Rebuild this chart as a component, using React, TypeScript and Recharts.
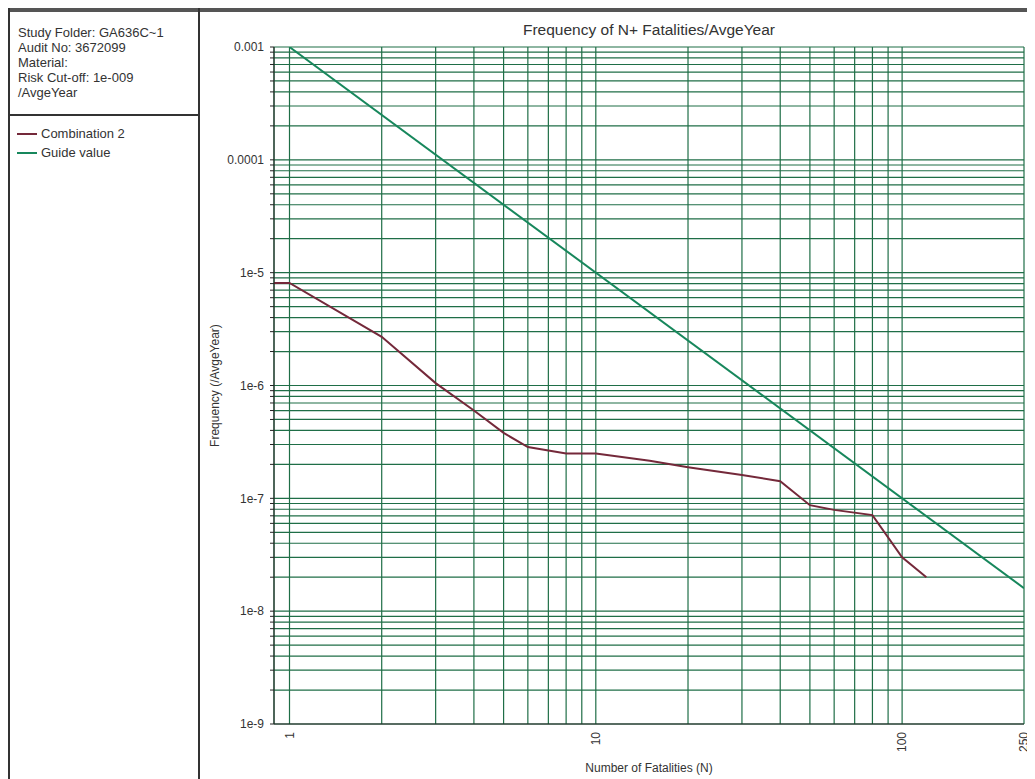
import React from 'react';
import { LineChart, Line, XAxis, YAxis, CartesianGrid } from 'recharts';

// ---- Data ----
const comboN = [0.89, 1, 2, 3, 4, 5, 6, 8, 10, 15, 20, 30, 40, 50, 60, 80, 100, 120];
const comboF = [8.1e-6, 8.1e-6, 2.7e-6, 1.05e-6, 6.0e-7, 3.8e-7, 2.85e-7, 2.5e-7, 2.5e-7, 2.15e-7, 1.89e-7, 1.61e-7, 1.42e-7, 8.7e-8, 7.9e-8, 7.1e-8, 3.0e-8, 2.0e-8];
const guideN = [1, 250];
const guideF = [1e-3, 1.6e-8];

// ---- Ticks ----
const xGridTicks = [1, 2, 3, 4, 5, 6, 7, 8, 9, 10, 20, 30, 40, 50, 60, 70, 80, 90, 100, 250];
const xLabelTicks = [1, 10, 100, 250];
const yDecades = [1e-9, 1e-8, 1e-7, 1e-6, 1e-5, 1e-4, 1e-3];
const yDecadeLabels = ['1e-9', '1e-8', '1e-7', '1e-6', '1e-5', '0.0001', '0.001'];
const yMultipliers = [1, 2, 3, 4, 5, 6, 7, 8, 9];
const yTicks: number[] = [];
yDecades.slice(0, 6).forEach((d) => yMultipliers.forEach((m) => yTicks.push(d * m)));
yTicks.push(1e-3);

const infoLines = ['Study Folder: GA636C~1', 'Audit No: 3672099', 'Material:', 'Risk Cut-off: 1e-009', '/AvgeYear'];
const legendItems = [
  { name: 'Combination 2', color: '#74293a' },
  { name: 'Guide value', color: '#17875c' },
];

const comboData = comboN.map((n, i) => ({ n, f: comboF[i] }));
const guideData = guideN.map((n, i) => ({ n, f: guideF[i] }));

const GRID = '#1f6e47';
const FONT = '"Liberation Sans", Arial, sans-serif';

const yFmt = (v: number) => {
  for (let i = 0; i < yDecades.length; i++) {
    if (Math.abs(v / yDecades[i] - 1) < 1e-6) return yDecadeLabels[i];
  }
  return '';
};

const XTick = (props: any) => {
  const { x, y, payload } = props;
  const v = payload.value;
  if (!xLabelTicks.some((t) => Math.abs(t - v) < 1e-9)) return <g />;
  return (
    <text
      x={x}
      y={y}
      transform={`rotate(-90 ${x} ${y})`}
      textAnchor="end"
      dy="0.35em"
      fontSize={12}
      fill="#333"
      fontFamily={FONT}
    >
      {v}
    </text>
  );
};

export default function App() {
  return (
    <div
      style={{
        position: 'relative',
        width: 1027,
        height: 771,
        fontFamily: FONT,
        background: '#fff',
        overflow: 'hidden',
        color: '#333',
      }}
    >
      <div style={{ position: 'absolute', left: 0, top: 0, width: 1027, height: 4, background: '#555' }} />
      <div
        style={{
          position: 'absolute',
          left: 0,
          top: 0,
          width: 192,
          height: 771,
          borderLeft: '2px solid #333',
          borderRight: '2px solid #333',
          boxSizing: 'border-box',
        }}
      />
      <div style={{ position: 'absolute', left: 10, top: 17, fontSize: 13, lineHeight: '15px' }}>
        {infoLines.map((l) => (
          <div key={l}>{l}</div>
        ))}
      </div>
      <div style={{ position: 'absolute', left: 0, top: 106, width: 192, height: 2, background: '#333' }} />
      <div style={{ position: 'absolute', left: 9, top: 116, fontSize: 13, lineHeight: '19px' }}>
        {legendItems.map((it) => (
          <div key={it.name} style={{ display: 'flex', alignItems: 'center' }}>
            <span style={{ display: 'inline-block', width: 20, height: 2, background: it.color, marginRight: 4 }} />
            <span>{it.name}</span>
          </div>
        ))}
      </div>
      <div
        style={{
          position: 'absolute',
          left: 266,
          width: 750,
          top: 13,
          textAlign: 'center',
          fontSize: 15.5,
        }}
      >
        Frequency of N+ Fatalities/AvgeYear
      </div>
      <div style={{ position: 'absolute', left: 192, top: 0 }}>
        <LineChart width={835} height={771} margin={{ top: 39, right: 11, left: 0, bottom: 0 }}>
          <CartesianGrid stroke={GRID} strokeWidth={1.2} />
          <XAxis
            dataKey="n"
            type="number"
            scale="log"
            domain={[0.89, 250]}
            allowDataOverflow
            ticks={xGridTicks}
            interval={0}
            tick={<XTick />}
            tickLine={false}
            tickSize={6}
            height={55}
            stroke="#222"
            label={{ value: 'Number of Fatalities (N)', position: 'insideBottom', offset: 7, fontSize: 12, fill: '#333' }}
          />
          <YAxis
            type="number"
            scale="log"
            domain={[1e-9, 1e-3]}
            allowDataOverflow
            ticks={yTicks}
            interval={0}
            tickFormatter={yFmt}
            tickSize={4}
            tickMargin={6}
            width={74}
            stroke="#222"
            tick={{ fontSize: 12, fill: '#333' }}
            label={{
              value: 'Frequency (/AvgeYear)',
              angle: -90,
              position: 'insideLeft',
              offset: 15,
              fontSize: 12,
              fill: '#333',
              style: { textAnchor: 'middle' },
            }}
          />
          <Line
            data={guideData}
            dataKey="f"
            stroke="#17875c"
            strokeWidth={2}
            dot={false}
            isAnimationActive={false}
          />
          <Line
            data={comboData}
            dataKey="f"
            stroke="#74293a"
            strokeWidth={2}
            dot={false}
            isAnimationActive={false}
          />
        </LineChart>
      </div>
    </div>
  );
}
